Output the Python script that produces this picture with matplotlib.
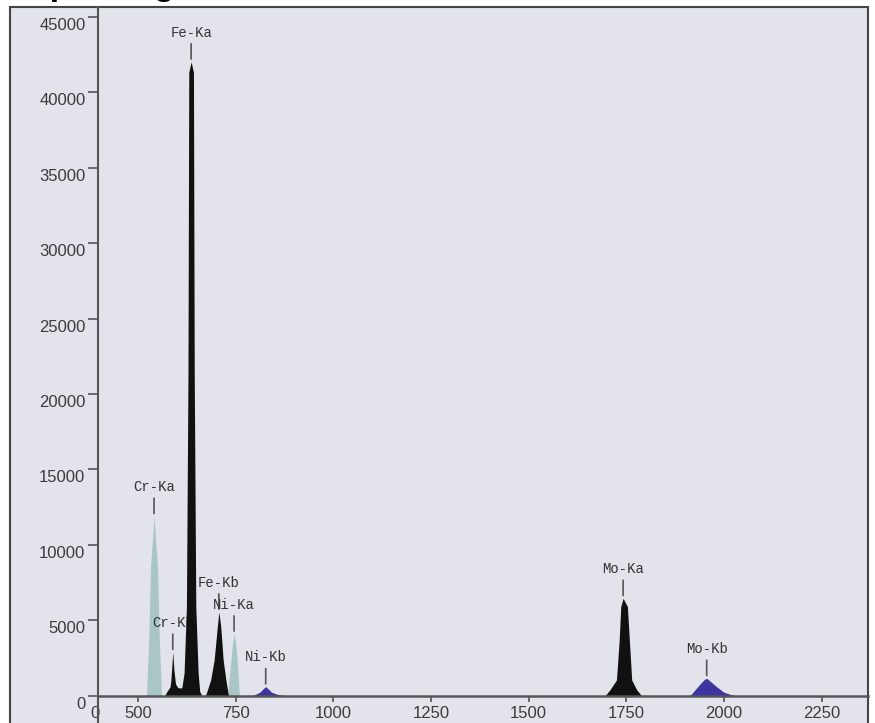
import matplotlib
matplotlib.use("Agg")
import matplotlib.pyplot as plt
from matplotlib.patches import Rectangle
from matplotlib.transforms import ScaledTranslation

# peak names, positions and heights
peak_names = ["Cr-Ka", "Cr-Kb", "Fe-Ka", "Fe-Kb", "Ni-Ka", "Ni-Kb", "Mo-Ka", "Mo-Kb"]
peak_pos = [541, 589, 636, 707, 746, 827, 1742, 1956]
peak_top = [11900, 2900, 42000, 5570, 4110, 620, 6470, 1170]

# outline of each peak (channel, counts)
cr_ka_x = [522, 523, 528, 532, 541, 550, 554, 559, 560]
cr_ka_y = [0, 860, 4170, 8500, 11900, 8500, 4170, 860, 0]
cr_kb_x = [568, 574, 582, 584, 586, 589, 592, 596, 602, 610, 616]
cr_kb_y = [0, 300, 600, 1000, 1720, 2900, 1720, 800, 550, 530, 600]
fe_ka_x = [612, 618, 624, 628, 630, 636, 642, 644, 648, 654, 658, 664]
fe_ka_y = [500, 1520, 5900, 21400, 41300, 42000, 41300, 21400, 5900, 1520, 300, 0]
fe_kb_x = [672, 676, 686, 695, 703, 707, 712, 718, 725, 730, 732]
fe_kb_y = [0, 265, 1060, 2390, 4570, 5570, 4570, 2390, 1060, 265, 0]
ni_ka_x = [729, 730, 738, 742, 746, 750, 754, 759, 760]
ni_ka_y = [0, 265, 2390, 3500, 4110, 3500, 2390, 265, 0]
ni_kb_x = [790, 800, 812, 822, 827, 833, 842, 855, 870, 878]
ni_kb_y = [0, 100, 250, 520, 620, 480, 250, 120, 60, 0]
mo_ka_x = [1695, 1700, 1708, 1725, 1732, 1736, 1742, 1753, 1758, 1764, 1777, 1785, 1790]
mo_ka_y = [0, 150, 400, 1060, 3710, 5920, 6470, 5920, 3710, 1060, 400, 150, 0]
mo_kb_x = [1905, 1915, 1933, 1950, 1956, 1964, 1981, 2000, 2020, 2035]
mo_kb_y = [0, 70, 620, 1100, 1170, 1000, 620, 250, 80, 0]

x_ticks = [500, 750, 1000, 1250, 1500, 1750, 2000, 2250]
x_labels = ["500", "750", "1000", "1250", "1500", "1750", "2000", "2250"]
y_ticks = [0, 5000, 10000, 15000, 20000, 25000, 30000, 35000, 40000, 45000]
y_labels = ["0", "5000", "10000", "15000", "20000", "25000", "30000", "35000", "40000", "45000"]

bg = "#e2e3eb"
black = "#111111"
pale = "#a9c6c5"
blue = "#3d35a0"
W, H = 875, 723

fig = plt.figure(figsize=(8.75, 7.23), dpi=100, facecolor="white")

# outer frame of the scanned chart
fig.patches.append(Rectangle((10 / W, -0.02), 858 / W, 1.02 - 7 / H,
                             transform=fig.transFigure, facecolor=bg,
                             edgecolor="#444444", linewidth=1.5, zorder=-10))

# cropped title, only the bottom edge shows
fig.text(28 / W, 1 + 5 / H, "Spectrogram", fontsize=24.5, fontweight="bold",
         family="Liberation Sans", ha="left", va="baseline", color="black")

ax = fig.add_axes([98 / W, 0, 770 / W, (H - 7) / H])
ax.set_zorder(1)
ax.patch.set_alpha(0)
ax.set_xlim(397.6, 2369)
ax.set_ylim(-1789, 45630)

for s in ["top", "right"]:
    ax.spines[s].set_visible(False)
ax.spines["bottom"].set_position(("data", 0))
ax.spines["bottom"].set_color("#555555")
ax.spines["bottom"].set_linewidth(1.8)
ax.spines["left"].set_color("#555555")
ax.spines["left"].set_linewidth(1.5)

# peaks: pale ones sit under the labels, dark ones over them
ax.fill_between(cr_ka_x, cr_ka_y, 0, color=pale, lw=0, zorder=0.5)
ax.fill_between(ni_ka_x, ni_ka_y, 0, color=pale, lw=0, zorder=0.5)
ax.fill_between(cr_kb_x, cr_kb_y, 0, color=black, lw=0, zorder=2)
ax.fill_between(fe_ka_x, fe_ka_y, 0, color=black, lw=0, zorder=2)
ax.fill_between(fe_kb_x, fe_kb_y, 0, color=black, lw=0, zorder=2)
ax.fill_between(ni_kb_x, ni_kb_y, 0, color=blue, lw=0, zorder=2)
ax.fill_between(mo_ka_x, mo_ka_y, 0, color=black, lw=0, zorder=2)
ax.fill_between(mo_kb_x, mo_kb_y, 0, color=blue, lw=0, zorder=2)

# peak labels with small marker lines
for name, px, py in zip(peak_names, peak_pos, peak_top):
    ax.annotate(name, xy=(px, py), xytext=(0, 16), textcoords="offset points",
                ha="center", va="bottom", fontsize=10, family="Liberation Mono",
                color="#333333", zorder=1,
                arrowprops=dict(arrowstyle="-", color="#555555", lw=1.2,
                                shrinkA=1, shrinkB=2))

ax.set_xticks([397.6] + x_ticks)
ax.set_xticklabels(["0"] + x_labels)
ax.set_yticks(y_ticks)
ax.set_yticklabels(y_labels)
ax.tick_params(axis="x", direction="out", length=4, width=1.2, pad=3,
               labelsize=12, colors="#555555", labelcolor="#3c3c3c")
ax.tick_params(axis="y", direction="out", length=7, width=1.2, pad=2,
               labelsize=12, colors="#555555", labelcolor="#3c3c3c")
for lab in ax.get_xticklabels() + ax.get_yticklabels():
    lab.set_family("Liberation Sans")
for lab in ax.get_yticklabels():
    lab.set_transform(lab.get_transform() + ScaledTranslation(0, -0.07, fig.dpi_scale_trans))
ax.get_xticklabels()[0].set_transform(
    ax.get_xticklabels()[0].get_transform() + ScaledTranslation(-0.03, 0, fig.dpi_scale_trans))

fig.savefig("out.png", dpi=100, facecolor="white")
